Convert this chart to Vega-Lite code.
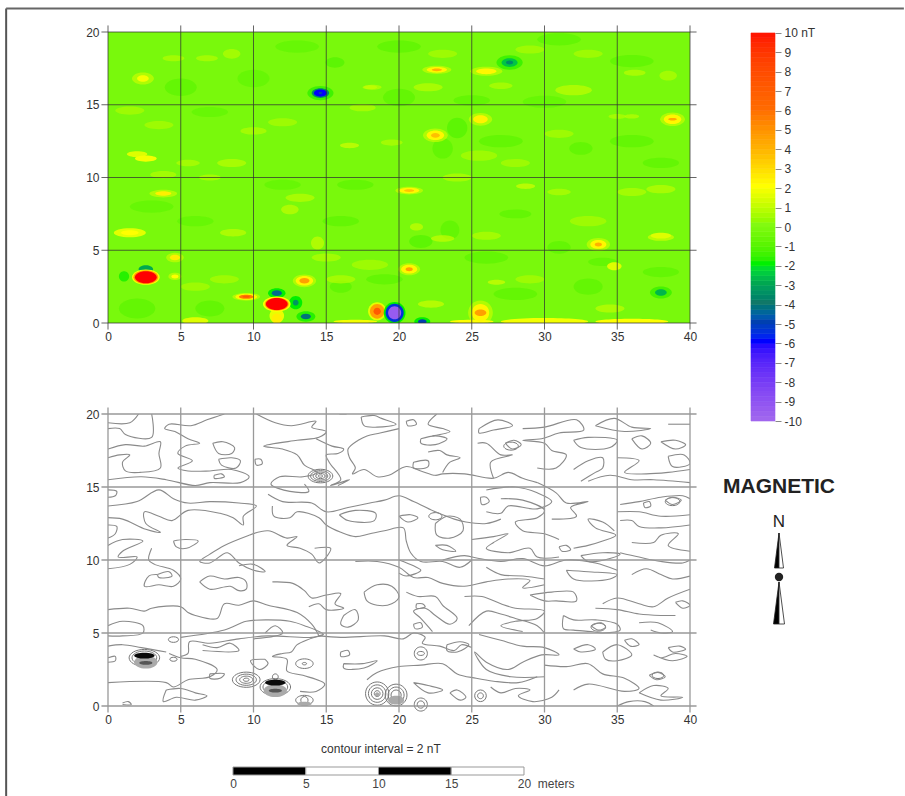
{"$schema":"https://vega.github.io/schema/vega-lite/v6.json","bounds":"flush","padding":{"left":5,"top":7,"right":0,"bottom":0},"background":"white","spacing":643,"config":{"view":{"stroke":null},"axis":{"labelFont":"Liberation Sans","labelFontSize":12,"labelColor":"#333","title":null,"grid":false,"domain":false,"ticks":false,"labelFlush":false}},
"datasets":{
"grid":[{"x":0},{"x":5},{"x":10},{"x":15},{"x":20},{"x":25},{"x":30},{"x":35},{"x":40}],
"gridy":[{"y":0},{"y":5},{"y":10},{"y":15},{"y":20}],
"base":[{"x":0,"x2":40,"y":0,"y2":20,"v":-0.25}],
"blobs":[
{"x":15.6,"y":17.9,"v":-1.2,"w":1.3,"s":"b"},{"x":24,"y":13.4,"v":-1.2,"w":1.4,"s":"a"},{"x":23,"y":12,"v":-1,"w":1.4,"s":"a"},{"x":21.5,"y":5.6,"v":-1.2,"w":1.6,"s":"b"},{"x":23.5,"y":6.4,"v":-1,"w":1.3,"s":"a"},{"x":32.5,"y":12,"v":-1,"w":1.6,"s":"b"},{"x":33,"y":2.5,"v":-1,"w":2,"s":"b"},{"x":34,"y":4.2,"v":-1,"w":2,"s":"c"},{"x":28,"y":7.5,"v":-1,"w":2.2,"s":"c"},{"x":31,"y":5.2,"v":-1,"w":1.6,"s":"b"},{"x":5,"y":16.2,"v":-1,"w":2.2,"s":"b"},{"x":10,"y":16.8,"v":-0.9,"w":2.2,"s":"b"},{"x":7,"y":14.5,"v":-0.9,"w":2.5,"s":"c"},{"x":12,"y":9.5,"v":-0.9,"w":2.5,"s":"c"},{"x":6,"y":7,"v":-0.9,"w":2.5,"s":"c"},{"x":16,"y":7,"v":-1,"w":2.5,"s":"c"},{"x":17,"y":9.5,"v":-1,"w":2.5,"s":"c"},{"x":20,"y":15.5,"v":-1,"w":2.2,"s":"b"},{"x":25,"y":15.3,"v":-1,"w":2.5,"s":"c"},{"x":30,"y":15.2,"v":-0.9,"w":3,"s":"c"},{"x":36,"y":12.5,"v":-1,"w":3,"s":"c"},{"x":28,"y":2,"v":-1,"w":3,"s":"c"},{"x":36,"y":18,"v":-1,"w":3,"s":"c"},{"x":13,"y":19,"v":-0.9,"w":3,"s":"c"},{"x":20,"y":19,"v":-1,"w":3,"s":"c"},{"x":31,"y":19.5,"v":-1,"w":3,"s":"c"},{"x":2,"y":1,"v":-1,"w":2.5,"s":"b"},{"x":7,"y":1,"v":-1,"w":2,"s":"b"},{"x":16,"y":2.5,"v":-1,"w":1.5,"s":"b"},{"x":3,"y":8,"v":-0.9,"w":3,"s":"c"},{"x":38,"y":11,"v":-1,"w":2.5,"s":"c"},{"x":27,"y":12.5,"v":-1,"w":3,"s":"c"},{"x":19,"y":3,"v":-1,"w":2.5,"s":"c"},{"x":26,"y":4.5,"v":-1,"w":3,"s":"c"},{"x":38,"y":3.5,"v":-1,"w":2.5,"s":"c"},
{"x":4.5,"y":18.2,"v":0.7,"w":1.5,"s":"c"},{"x":6.8,"y":18.2,"v":0.7,"w":1.5,"s":"c"},{"x":8.5,"y":18.5,"v":0.7,"w":1.2,"s":"b"},{"x":1.5,"y":14.6,"v":0.6,"w":2,"s":"c"},{"x":3.5,"y":13.6,"v":0.6,"w":2,"s":"c"},{"x":10,"y":13.2,"v":0.7,"w":1.8,"s":"c"},{"x":12,"y":13.8,"v":0.6,"w":2,"s":"c"},{"x":19.5,"y":12.4,"v":0.7,"w":1.5,"s":"c"},{"x":8.5,"y":11,"v":0.8,"w":2,"s":"c"},{"x":5.5,"y":11,"v":0.7,"w":1.6,"s":"c"},{"x":3.8,"y":10.2,"v":0.7,"w":1.8,"s":"c"},{"x":7,"y":10,"v":0.7,"w":1.5,"s":"c"},{"x":13.2,"y":8.6,"v":0.8,"w":2,"s":"c"},{"x":12.5,"y":7.8,"v":0.9,"w":1.2,"s":"b"},{"x":8.6,"y":6.2,"v":0.9,"w":1.8,"s":"c"},{"x":14.4,"y":5.5,"v":1,"w":0.9,"s":"a"},{"x":17.5,"y":14.8,"v":0.7,"w":1.8,"s":"c"},{"x":18.2,"y":16.2,"v":0.8,"w":1.2,"s":"c"},{"x":22,"y":16.2,"v":0.8,"w":2,"s":"c"},{"x":27,"y":16.3,"v":0.7,"w":1.6,"s":"c"},{"x":32,"y":16,"v":0.9,"w":2.5,"s":"c"},{"x":36.2,"y":17.2,"v":0.8,"w":1.5,"s":"c"},{"x":38.5,"y":17,"v":0.7,"w":1.2,"s":"b"},{"x":33,"y":18.5,"v":0.6,"w":2,"s":"c"},{"x":29,"y":18.8,"v":0.6,"w":2,"s":"c"},{"x":23,"y":18.5,"v":0.6,"w":2,"s":"c"},{"x":31,"y":13,"v":0.6,"w":2,"s":"c"},{"x":35,"y":14.2,"v":0.7,"w":1.2,"s":"c"},{"x":28,"y":11,"v":0.6,"w":2,"s":"c"},{"x":25.5,"y":11.5,"v":0.6,"w":2.5,"s":"c"},{"x":24,"y":10,"v":0.7,"w":2,"s":"c"},{"x":28.7,"y":9.4,"v":1.2,"w":1.3,"s":"c"},{"x":31,"y":9,"v":0.7,"w":1.6,"s":"c"},{"x":36,"y":9,"v":0.7,"w":2,"s":"c"},{"x":38,"y":9.2,"v":0.8,"w":2,"s":"c"},{"x":33,"y":7,"v":0.6,"w":2.5,"s":"c"},{"x":38,"y":5.9,"v":1.2,"w":1.8,"s":"c"},{"x":23,"y":5.8,"v":1,"w":1.6,"s":"c"},{"x":26,"y":6,"v":0.7,"w":2,"s":"c"},{"x":21.2,"y":6.6,"v":1,"w":0.9,"s":"b"},{"x":26.7,"y":2.8,"v":1.2,"w":1.2,"s":"c"},{"x":22.2,"y":1.3,"v":1.1,"w":1.8,"s":"c"},{"x":29,"y":3,"v":0.6,"w":2,"s":"c"},{"x":34.5,"y":1,"v":0.9,"w":2,"s":"c"},{"x":36,"y":0.1,"v":2,"w":5,"s":"d"},{"x":30,"y":0.1,"v":1.8,"w":6,"s":"d"},{"x":25,"y":0.1,"v":2,"w":3,"s":"d"},{"x":17,"y":0.1,"v":1.8,"w":3,"s":"d"},{"x":6,"y":0.15,"v":1.4,"w":1.8,"s":"c"},{"x":8,"y":3,"v":0.6,"w":2,"s":"c"},{"x":6,"y":2.5,"v":0.6,"w":2,"s":"c"},{"x":16,"y":3,"v":0.7,"w":2,"s":"c"},{"x":18,"y":4,"v":0.6,"w":2.5,"s":"c"},{"x":15,"y":4.5,"v":0.7,"w":2,"s":"c"},{"x":16.6,"y":12.2,"v":1.2,"w":1.3,"s":"c"},{"x":18,"y":16.2,"v":1,"w":1,"s":"c"},{"x":34.8,"y":3.9,"v":1.4,"w":1,"s":"b"},{"x":38,"y":6,"v":1.4,"w":1.4,"s":"c"},{"x":36,"y":14.2,"v":0.8,"w":1,"s":"c"},
{"x":2.4,"y":16.8,"v":1,"w":1.5,"s":"b"},{"x":2.4,"y":16.8,"v":1.8,"w":0.8,"s":"b"},{"x":3.8,"y":8.9,"v":1,"w":1.9,"s":"c"},{"x":3.8,"y":8.9,"v":2.4,"w":1.1,"s":"c"},{"x":4.6,"y":4.5,"v":1,"w":1.2,"s":"b"},{"x":4.6,"y":4.5,"v":2.4,"w":0.7,"s":"b"},{"x":4.6,"y":3.2,"v":1,"w":0.9,"s":"b"},{"x":4.6,"y":3.2,"v":2,"w":0.5,"s":"b"},{"x":1.5,"y":6.2,"v":1.5,"w":2.2,"s":"c"},{"x":1.5,"y":6.2,"v":2,"w":1.2,"s":"c"},{"x":2,"y":11.6,"v":1.4,"w":1.4,"s":"c"},{"x":2.6,"y":11.3,"v":1.8,"w":1.5,"s":"c"},
{"x":20.7,"y":9.1,"v":1,"w":1.9,"s":"c"},{"x":20.7,"y":9.1,"v":2.2,"w":1.4,"s":"c"},{"x":20.7,"y":9.1,"v":3.5,"w":0.7,"s":"c"},{"x":22.6,"y":17.4,"v":1,"w":2,"s":"c"},{"x":22.6,"y":17.4,"v":2.2,"w":1.4,"s":"c"},{"x":22.6,"y":17.4,"v":4,"w":0.7,"s":"c"},{"x":26,"y":17.3,"v":1,"w":2.2,"s":"c"},{"x":26,"y":17.3,"v":2.2,"w":1.4,"s":"c"},{"x":27.6,"y":17.9,"v":-1.5,"w":1.8,"s":"b"},{"x":27.6,"y":17.9,"v":-2.6,"w":1.1,"s":"b"},{"x":27.6,"y":17.9,"v":-3.6,"w":0.5,"s":"b"},{"x":25.6,"y":14,"v":1,"w":1.6,"s":"b"},{"x":25.6,"y":14,"v":2.3,"w":1,"s":"b"},{"x":22.5,"y":12.9,"v":1,"w":1.7,"s":"b"},{"x":22.5,"y":12.9,"v":2.2,"w":1.2,"s":"b"},{"x":22.5,"y":12.9,"v":3.6,"w":0.6,"s":"b"},{"x":38.8,"y":14,"v":1,"w":1.7,"s":"b"},{"x":38.8,"y":14,"v":2.2,"w":1.2,"s":"b"},{"x":38.8,"y":14,"v":4.2,"w":0.6,"s":"c"},{"x":33.7,"y":5.4,"v":1,"w":1.6,"s":"b"},{"x":33.7,"y":5.4,"v":2.2,"w":1.1,"s":"b"},{"x":33.7,"y":5.4,"v":4,"w":0.5,"s":"b"},{"x":20.7,"y":3.7,"v":1,"w":1.5,"s":"b"},{"x":20.7,"y":3.7,"v":2.2,"w":1.1,"s":"b"},{"x":20.7,"y":3.7,"v":4.5,"w":0.5,"s":"b"},{"x":25.6,"y":0.7,"v":1,"w":1.7,"s":"a"},{"x":25.6,"y":0.7,"v":2.2,"w":1.2,"s":"a"},{"x":25.6,"y":0.7,"v":4.5,"w":0.8,"s":"b"},{"x":38,"y":2.1,"v":-1.4,"w":1.5,"s":"b"},{"x":38,"y":2.1,"v":-2.8,"w":0.8,"s":"b"},
{"x":13.5,"y":2.9,"v":1,"w":1.6,"s":"b"},{"x":13.5,"y":2.9,"v":2.2,"w":1.2,"s":"b"},{"x":13.5,"y":2.9,"v":4.5,"w":0.7,"s":"b"},{"x":9.5,"y":1.8,"v":1,"w":1.9,"s":"c"},{"x":9.5,"y":1.8,"v":2.2,"w":1.5,"s":"c"},{"x":9.5,"y":1.8,"v":5.5,"w":1,"s":"c"},{"x":9.5,"y":1.8,"v":7,"w":0.5,"s":"c"},{"x":11.6,"y":0.5,"v":1.6,"w":1,"s":"a"},{"x":11.6,"y":0.3,"v":2.4,"w":0.7,"s":"a"},{"x":11.6,"y":2.05,"v":-2,"w":1.2,"s":"b"},{"x":11.6,"y":2.05,"v":-4.4,"w":0.7,"s":"b"},{"x":12.9,"y":1.4,"v":-2,"w":0.9,"s":"a"},{"x":12.9,"y":1.4,"v":-3.4,"w":0.4,"s":"a"},{"x":13.6,"y":0.45,"v":-1.8,"w":1.3,"s":"b"},{"x":13.6,"y":0.45,"v":-4.2,"w":0.7,"s":"b"},{"x":11.6,"y":1.3,"v":2,"w":1.9,"s":"b"},{"x":11.6,"y":1.3,"v":4.5,"w":1.65,"s":"b"},{"x":11.6,"y":1.3,"v":10,"w":1.5,"s":"b"},{"x":2.6,"y":3.7,"v":-3,"w":1,"s":"b"},{"x":1.1,"y":3.2,"v":-1.8,"w":0.7,"s":"a"},{"x":2.6,"y":3.15,"v":2,"w":1.9,"s":"b"},{"x":2.6,"y":3.15,"v":4.5,"w":1.7,"s":"b"},{"x":2.6,"y":3.15,"v":10,"w":1.5,"s":"b"},{"x":18.5,"y":0.8,"v":1.5,"w":1.25,"s":"a"},{"x":18.5,"y":0.8,"v":4.5,"w":1,"s":"a"},{"x":18.5,"y":0.8,"v":7,"w":0.5,"s":"a"},{"x":14.6,"y":15.8,"v":-1.5,"w":1.8,"s":"b"},{"x":14.6,"y":15.8,"v":-3.5,"w":1.2,"s":"b"},{"x":14.6,"y":15.8,"v":-6,"w":0.9,"s":"b"},{"x":14.6,"y":15.8,"v":-5,"w":0.25,"s":"b"},{"x":19.7,"y":0.7,"v":-2,"w":1.5,"s":"a"},{"x":19.7,"y":0.7,"v":-5.5,"w":1.25,"s":"a"},{"x":19.7,"y":0.7,"v":-9.5,"w":0.9,"s":"a"},{"x":21.6,"y":0.1,"v":-2,"w":1.1,"s":"b"},{"x":21.6,"y":0.1,"v":-5,"w":0.6,"s":"b"}
],
"rings":[{"x":14.6,"y":15.75,"w":1.7,"s":"b"},{"x":14.6,"y":15.75,"w":1.35,"s":"b"},{"x":14.6,"y":15.75,"w":1,"s":"b"},{"x":14.6,"y":15.75,"w":0.65,"s":"b"},{"x":14.6,"y":15.75,"w":0.3,"s":"b"},{"x":2.5,"y":3.3,"w":2.1,"s":"b"},{"x":2.5,"y":3.3,"w":1.7,"s":"b"},{"x":9.5,"y":1.8,"w":1.9,"s":"b"},{"x":9.5,"y":1.8,"w":1.4,"s":"b"},{"x":9.5,"y":1.8,"w":0.9,"s":"b"},{"x":9.5,"y":1.8,"w":0.4,"s":"b"},{"x":11.5,"y":1.3,"w":2.1,"s":"b"},{"x":11.5,"y":1.3,"w":1.7,"s":"b"},{"x":18.5,"y":0.85,"w":1.6,"s":"a"},{"x":18.5,"y":0.85,"w":1.2,"s":"a"},{"x":18.5,"y":0.85,"w":0.8,"s":"a"},{"x":18.5,"y":0.85,"w":0.4,"s":"a"},{"x":19.8,"y":0.75,"w":1.5,"s":"a"},{"x":19.8,"y":0.75,"w":1.1,"s":"a"},{"x":19.8,"y":0.75,"w":0.7,"s":"a"},{"x":4.5,"y":4.55,"w":0.7,"s":"b"},{"x":4.5,"y":3.2,"w":0.5,"s":"b"},{"x":13.5,"y":2.9,"w":1.2,"s":"b"},{"x":13.5,"y":2.9,"w":0.3,"s":"b"},{"x":21.5,"y":3.6,"w":0.9,"s":"a"},{"x":21.5,"y":3.6,"w":0.5,"s":"b"},{"x":11.5,"y":2,"w":0.4,"s":"a"},{"x":25.6,"y":0.7,"w":0.8,"s":"a"},{"x":25.6,"y":0.7,"w":0.4,"s":"a"},{"x":21.5,"y":0.1,"w":0.9,"s":"a"},{"x":21.5,"y":0.1,"w":0.5,"s":"a"},{"x":33.7,"y":5.4,"w":1,"s":"b"},{"x":38.8,"y":14,"w":1,"s":"b"},{"x":22.5,"y":13,"w":0.9,"s":"b"},{"x":27.7,"y":17.8,"w":1,"s":"b"},{"x":37.8,"y":2.1,"w":0.8,"s":"b"},{"x":13.5,"y":0.4,"w":1.2,"s":"b"},{"x":13.5,"y":0.4,"w":0.5,"s":"a"}],
"dark":[{"x":2.6,"y":3.0,"w":1.6,"s":"b","g":"m"},{"x":2.5,"y":3.45,"w":1.4,"s":"c","g":"k"},{"x":2.6,"y":2.95,"w":0.9,"s":"c","g":"d"},{"x":11.5,"y":1.05,"w":1.6,"s":"b","g":"m"},{"x":11.5,"y":1.6,"w":1.4,"s":"c","g":"k"},{"x":11.5,"y":1.05,"w":0.9,"s":"c","g":"d"},{"x":19.8,"y":0.4,"w":1.1,"s":"b","g":"m"},{"x":18.5,"y":0.8,"w":0.3,"s":"a","g":"m"},{"x":13.5,"y":0.15,"w":1,"s":"c","g":"m"}],
"contours":[
{"c":1,"x":0,"y":19.4},{"c":1,"x":1.5,"y":19.4},{"c":1,"x":2.1,"y":20},
{"c":2,"x":0,"y":19},{"c":2,"x":0.8,"y":19},{"c":2,"x":1.2,"y":18.6},{"c":2,"x":3,"y":18.4},{"c":2,"x":3,"y":20},
{"c":3,"x":0,"y":17.6},{"c":3,"x":1.2,"y":17.9},{"c":3,"x":2.5,"y":17.8},{"c":3,"x":3.6,"y":18.1},{"c":3,"x":3.5,"y":17.3},{"c":3,"x":3.6,"y":16.3},{"c":3,"x":2.2,"y":16},{"c":3,"x":1.2,"y":16.1},{"c":3,"x":1,"y":16.7},{"c":3,"x":1.5,"y":17.2},{"c":3,"x":0.8,"y":17.2},{"c":3,"x":0,"y":17},
{"c":4,"x":8,"y":20},{"c":4,"x":6.8,"y":19.6},{"c":4,"x":5.7,"y":19.2},{"c":4,"x":4.2,"y":19.3},{"c":4,"x":3.9,"y":19},{"c":4,"x":4.6,"y":18.8},{"c":4,"x":5.5,"y":18.3},{"c":4,"x":6.3,"y":18},{"c":4,"x":5.3,"y":17.8},{"c":4,"x":4.8,"y":17.3},{"c":4,"x":5.8,"y":16.8},{"c":4,"x":4.8,"y":16.3},{"c":4,"x":5.5,"y":16.1},{"c":4,"x":7,"y":16.1},{"c":4,"x":8.5,"y":16.2},{"c":4,"x":9.7,"y":15.7},{"c":4,"x":9.1,"y":15.3},{"c":4,"x":7,"y":15.3},{"c":4,"x":6,"y":15.1},{"c":4,"x":4,"y":15.5},{"c":4,"x":2.3,"y":15.7},{"c":4,"x":0,"y":15.5},
{"c":5,"x":0,"y":14.8},{"c":5,"x":0.6,"y":14.7},{"c":5,"x":0.5,"y":14.4},{"c":5,"x":0,"y":14.3},
{"c":6,"x":0,"y":13.7},{"c":6,"x":2,"y":14},{"c":6,"x":3.5,"y":14.8},{"c":6,"x":4.5,"y":14.2},{"c":6,"x":5.5,"y":13.9},{"c":6,"x":7,"y":14},{"c":6,"x":9,"y":13.9},{"c":6,"x":10.2,"y":13.7},{"c":6,"x":9.3,"y":13},{"c":6,"x":9.3,"y":12.4},{"c":6,"x":8.6,"y":12.9},{"c":6,"x":7.7,"y":13.2},{"c":6,"x":5.5,"y":13.4},{"c":6,"x":4.4,"y":12.7},{"c":6,"x":3.5,"y":13},{"c":6,"x":2.5,"y":13.3},{"c":6,"x":2.6,"y":12.5},{"c":6,"x":3.6,"y":11.9},{"c":6,"x":2.6,"y":12.1},{"c":6,"x":1,"y":12.8},{"c":6,"x":0,"y":12.9},
{"c":7,"x":0,"y":12.4},{"c":7,"x":0.6,"y":12.3},{"c":7,"x":0.5,"y":11.8},{"c":7,"x":0,"y":11.5},
{"c":8,"x":7.2,"y":18},{"c":8,"x":7.9,"y":18.1},{"c":8,"x":8.7,"y":17.7},{"c":8,"x":8.5,"y":17.3},{"c":8,"x":7.6,"y":17.3},{"c":8,"x":7.2,"y":18},
{"c":9,"x":7.6,"y":16.9},{"c":9,"x":8.5,"y":17},{"c":9,"x":9.1,"y":16.8},{"c":9,"x":8.8,"y":16.3},{"c":9,"x":7.8,"y":16.5},{"c":9,"x":7.6,"y":16.9},
{"c":10,"x":10.1,"y":16.9},{"c":10,"x":10.5,"y":16.9},{"c":10,"x":10.6,"y":16.6},{"c":10,"x":10.2,"y":16.5},{"c":10,"x":10.1,"y":16.9},
{"c":11,"x":7.3,"y":15.8},{"c":11,"x":7.8,"y":15.9},{"c":11,"x":8,"y":15.7},{"c":11,"x":7.3,"y":15.6},{"c":11,"x":7.3,"y":15.8},
{"c":12,"x":10.2,"y":20},{"c":12,"x":11.5,"y":19.4},{"c":12,"x":12.6,"y":19.2},{"c":12,"x":14.3,"y":19.5},{"c":12,"x":14,"y":19.1},{"c":12,"x":15,"y":18.8},{"c":12,"x":14.5,"y":18.4},{"c":12,"x":13,"y":18.2},{"c":12,"x":10.7,"y":17.8},{"c":12,"x":12,"y":17.6},{"c":12,"x":13,"y":17.2},{"c":12,"x":13.5,"y":16.5},{"c":12,"x":14.4,"y":16},{"c":12,"x":13.4,"y":15.7},{"c":12,"x":11.8,"y":15.7},{"c":12,"x":11.2,"y":15.2},{"c":12,"x":12.5,"y":14.7},{"c":12,"x":13.8,"y":14.7},{"c":12,"x":13.5,"y":15.2},
{"c":13,"x":15.9,"y":20},{"c":13,"x":16.4,"y":20},
{"c":14,"x":14.3,"y":18.3},{"c":14,"x":15.4,"y":17.8},{"c":14,"x":16.2,"y":17.6},{"c":14,"x":15.8,"y":17.3},{"c":14,"x":15,"y":17.2},{"c":14,"x":15.2,"y":16.7},{"c":14,"x":16,"y":15.5},{"c":14,"x":15.3,"y":15.1},{"c":14,"x":16.6,"y":15.5},{"c":14,"x":15.8,"y":15.1},
{"c":15,"x":17.4,"y":19.8},{"c":15,"x":18.3,"y":19.9},{"c":15,"x":18.8,"y":19.7},{"c":15,"x":19.8,"y":19.3},{"c":15,"x":18.5,"y":19.1},{"c":15,"x":17.6,"y":19.2},{"c":15,"x":17.4,"y":19.8},
{"c":16,"x":20,"y":19},{"c":16,"x":18.7,"y":18.7},{"c":16,"x":17.8,"y":18.5},{"c":16,"x":17.2,"y":18.2},{"c":16,"x":16.5,"y":17.6},{"c":16,"x":16.6,"y":17},{"c":16,"x":17,"y":16.3},{"c":16,"x":16.8,"y":15.9},{"c":16,"x":17.6,"y":16.2},{"c":16,"x":18.5,"y":15.7},{"c":16,"x":19.3,"y":15.8},{"c":16,"x":20.5,"y":16.4},{"c":16,"x":21.5,"y":16.1},{"c":16,"x":22.5,"y":15.8},{"c":16,"x":23,"y":15.9},{"c":16,"x":24.5,"y":15.9},{"c":16,"x":26.5,"y":15.6},{"c":16,"x":27.5,"y":16},{"c":16,"x":28.5,"y":15.6},{"c":16,"x":29.5,"y":15.3},
{"c":18,"x":11,"y":14.5},{"c":18,"x":12,"y":14},{"c":18,"x":14,"y":13.9},{"c":18,"x":15,"y":13.3},{"c":18,"x":16.5,"y":13.6},{"c":18,"x":18,"y":13.9},{"c":18,"x":19,"y":14.1},{"c":18,"x":20,"y":14.4},{"c":18,"x":21,"y":14},{"c":18,"x":22.5,"y":13.3},{"c":18,"x":23.8,"y":12.8},{"c":18,"x":24.6,"y":12.6},{"c":18,"x":26,"y":12.5},{"c":18,"x":27,"y":12.8},
{"c":19,"x":11.3,"y":13.7},{"c":19,"x":11.4,"y":13},{"c":19,"x":12.5,"y":12.9},{"c":19,"x":13,"y":13.3},{"c":19,"x":14.5,"y":12.9},{"c":19,"x":15,"y":12.4},{"c":19,"x":16,"y":11.9},{"c":19,"x":17,"y":11.6},{"c":19,"x":18,"y":11.8},{"c":19,"x":19,"y":12},{"c":19,"x":20.3,"y":12.2},{"c":19,"x":20.5,"y":11.3},{"c":19,"x":20.8,"y":10.5},{"c":19,"x":21.5,"y":9.9},{"c":19,"x":23,"y":9.9},{"c":19,"x":24.2,"y":9.5},{"c":19,"x":25,"y":10},
{"c":20,"x":15.9,"y":13.1},{"c":20,"x":17,"y":13.4},{"c":20,"x":18.4,"y":13.2},{"c":20,"x":18.3,"y":12.7},{"c":20,"x":16.5,"y":12.7},{"c":20,"x":15.9,"y":13.1},
{"c":21,"x":9.7,"y":11.7},{"c":21,"x":11,"y":12},{"c":21,"x":12.3,"y":11.5},{"c":21,"x":13,"y":11.6},{"c":21,"x":12.3,"y":11},{"c":21,"x":13.2,"y":10.8},{"c":21,"x":14,"y":10.4},{"c":21,"x":14.5,"y":9.8},{"c":21,"x":15,"y":10.2},{"c":21,"x":15.3,"y":10.8},{"c":21,"x":14.2,"y":10.8},
{"c":22,"x":0,"y":11},{"c":22,"x":1,"y":11.4},{"c":22,"x":2.4,"y":11.3},{"c":22,"x":1,"y":10.6},{"c":22,"x":0.7,"y":10.2},{"c":22,"x":2,"y":10.2},{"c":22,"x":1.5,"y":9.7},{"c":22,"x":0,"y":9.4},
{"c":23,"x":4.5,"y":11.3},{"c":23,"x":5.3,"y":11.4},{"c":23,"x":6.2,"y":11.3},{"c":23,"x":5.4,"y":10.8},{"c":23,"x":4.7,"y":10.9},{"c":23,"x":4.5,"y":11.3},
{"c":24,"x":9.7,"y":11.7},{"c":24,"x":8,"y":11},{"c":24,"x":7,"y":10.4},{"c":24,"x":6.3,"y":9.9},{"c":24,"x":7,"y":9.8},{"c":24,"x":8.2,"y":10.5},{"c":24,"x":9,"y":9.8},{"c":24,"x":10,"y":9.3},{"c":24,"x":10.8,"y":9.2},{"c":24,"x":10,"y":9.7},{"c":24,"x":9,"y":9.6},
{"c":25,"x":3,"y":10.8},{"c":25,"x":2.8,"y":10},{"c":25,"x":3.2,"y":9.7},{"c":25,"x":4.5,"y":9.3},{"c":25,"x":5,"y":8.7},{"c":25,"x":4.5,"y":8.2},{"c":25,"x":3.5,"y":8.3},{"c":25,"x":2.5,"y":8.2},{"c":25,"x":2.8,"y":8.9},{"c":25,"x":3.4,"y":9},
{"c":26,"x":3.4,"y":9},{"c":26,"x":4.2,"y":9.2},{"c":26,"x":4.4,"y":8.9},{"c":26,"x":3.5,"y":8.8},{"c":26,"x":3.4,"y":9},
{"c":27,"x":6.3,"y":8.5},{"c":27,"x":7,"y":8.9},{"c":27,"x":8,"y":8.7},{"c":27,"x":9,"y":8.8},{"c":27,"x":9.5,"y":8.5},{"c":27,"x":9.5,"y":8},{"c":27,"x":9,"y":7.9},{"c":27,"x":8.4,"y":8.2},{"c":27,"x":7,"y":8},{"c":27,"x":6.3,"y":8.5},
{"c":28,"x":0,"y":6.6},{"c":28,"x":1.5,"y":6.7},{"c":28,"x":2.5,"y":6.5},{"c":28,"x":3,"y":6.7},{"c":28,"x":5,"y":6.8},{"c":28,"x":5.5,"y":6.4},{"c":28,"x":6,"y":6.2},{"c":28,"x":7.5,"y":6},{"c":28,"x":8,"y":7},{"c":28,"x":9,"y":6.9},{"c":28,"x":10,"y":7.2},{"c":28,"x":11,"y":6.9},{"c":28,"x":13,"y":6.4},{"c":28,"x":14,"y":5.6},{"c":28,"x":14.5,"y":4.8},
{"c":29,"x":11.3,"y":8.5},{"c":29,"x":12.7,"y":8.4},{"c":29,"x":13.5,"y":7.9},{"c":29,"x":14,"y":7.4},{"c":29,"x":15,"y":7.6},{"c":29,"x":16,"y":7.7},{"c":29,"x":15.6,"y":7},{"c":29,"x":16.2,"y":6.7},{"c":29,"x":15,"y":6.6},{"c":29,"x":14.5,"y":7},{"c":29,"x":13.8,"y":6.8},
{"c":30,"x":17,"y":9.9},{"c":30,"x":18.5,"y":9.9},{"c":30,"x":20,"y":9.5},{"c":30,"x":21,"y":8.8},{"c":30,"x":22,"y":8.8},{"c":30,"x":23,"y":8.4},{"c":30,"x":24.5,"y":8.2},{"c":30,"x":26,"y":8.5},{"c":30,"x":27.5,"y":8.7},{"c":30,"x":29,"y":8.6},{"c":30,"x":28.5,"y":8.1},{"c":30,"x":30,"y":8.3},
{"c":31,"x":17.6,"y":7.8},{"c":31,"x":18.5,"y":8.3},{"c":31,"x":19.5,"y":8.2},{"c":31,"x":20,"y":7.5},{"c":31,"x":19.5,"y":7},{"c":31,"x":18.5,"y":6.9},{"c":31,"x":17.8,"y":7.2},{"c":31,"x":17.6,"y":7.8},
{"c":32,"x":16.2,"y":6.2},{"c":32,"x":17,"y":6.6},{"c":32,"x":17.2,"y":5.9},{"c":32,"x":16.5,"y":5.4},{"c":32,"x":16,"y":5.6},{"c":32,"x":16.2,"y":6.2},
{"c":33,"x":0,"y":5.5},{"c":33,"x":1,"y":5.8},{"c":33,"x":2.4,"y":5.5},{"c":33,"x":2.4,"y":5},{"c":33,"x":1,"y":4.8},{"c":33,"x":0,"y":4.8},
{"c":34,"x":0,"y":4.1},{"c":34,"x":1,"y":4.2},{"c":34,"x":2.3,"y":4},{"c":34,"x":4,"y":3.7},
{"c":35,"x":5,"y":4.7},{"c":35,"x":8,"y":5.2},{"c":35,"x":9.5,"y":5.8},{"c":35,"x":11,"y":5.9},{"c":35,"x":12.5,"y":5.8},{"c":35,"x":13.5,"y":5.5},{"c":35,"x":14.8,"y":4.9},{"c":35,"x":14,"y":4.7},{"c":35,"x":11,"y":4.8},{"c":35,"x":9,"y":4.6},{"c":35,"x":7,"y":4.3},{"c":35,"x":5.6,"y":4.4},{"c":35,"x":5.5,"y":3.6},{"c":35,"x":5,"y":3.4},
{"c":36,"x":10.8,"y":5},{"c":36,"x":11.5,"y":5.5},{"c":36,"x":12,"y":5},{"c":36,"x":10,"y":4.6},
{"c":37,"x":6.5,"y":4.2},{"c":37,"x":7.5,"y":4},{"c":37,"x":8.4,"y":4.3},{"c":37,"x":9,"y":3.8},{"c":37,"x":6.5,"y":3.8},
{"c":38,"x":0,"y":3.3},{"c":38,"x":0.5,"y":3.4},{"c":38,"x":0.5,"y":3.1},{"c":38,"x":0,"y":3},
{"c":39,"x":0,"y":1.6},{"c":39,"x":4,"y":1.6},{"c":39,"x":4.5,"y":1.3},{"c":39,"x":5.5,"y":1.8},{"c":39,"x":7,"y":2},{"c":39,"x":7.5,"y":2.5},{"c":39,"x":6,"y":3.2},{"c":39,"x":5,"y":3.3},{"c":39,"x":4.2,"y":3.6},
{"c":40,"x":7,"y":2.2},{"c":40,"x":8,"y":2.2},{"c":40,"x":7.7,"y":1.9},{"c":40,"x":7,"y":1.9},{"c":40,"x":7,"y":2.2},
{"c":41,"x":4,"y":1.1},{"c":41,"x":5,"y":1.2},{"c":41,"x":6,"y":0.9},{"c":41,"x":6.8,"y":0.7},{"c":41,"x":6,"y":0.4},{"c":41,"x":4.7,"y":0.6},{"c":41,"x":3.8,"y":0.3},{"c":41,"x":4,"y":1.1},
{"c":42,"x":1,"y":0.2},{"c":42,"x":1.4,"y":0.3},{"c":42,"x":1.6,"y":0.1},{"c":42,"x":1,"y":0.1},
{"c":43,"x":10.8,"y":3.2},{"c":43,"x":9.8,"y":3.1},{"c":43,"x":10.4,"y":2.5},{"c":43,"x":11,"y":2.9},{"c":43,"x":10.8,"y":3.2},
{"c":44,"x":14.8,"y":4.9},{"c":44,"x":13,"y":4.2},{"c":44,"x":12.6,"y":3.7},{"c":44,"x":12,"y":3.6},{"c":44,"x":11.3,"y":3.4},{"c":44,"x":12.3,"y":3.2},{"c":44,"x":12.3,"y":2.4},{"c":44,"x":13.4,"y":2.1},{"c":44,"x":14.9,"y":1.5},{"c":44,"x":14.3,"y":1},{"c":44,"x":13.2,"y":1},
{"c":45,"x":16,"y":3.7},{"c":45,"x":16.5,"y":3.8},{"c":45,"x":16.6,"y":3.5},{"c":45,"x":16,"y":3.4},{"c":45,"x":16,"y":3.7},
{"c":46,"x":16.2,"y":2.9},{"c":46,"x":17.5,"y":2.9},{"c":46,"x":18.5,"y":3.1},{"c":46,"x":17.6,"y":2.6},{"c":46,"x":16.2,"y":2.6},{"c":46,"x":16.2,"y":2.9},
{"c":47,"x":17.8,"y":1.8},{"c":47,"x":18.5,"y":2.3},{"c":47,"x":20,"y":2.7},{"c":47,"x":21.5,"y":2.8},{"c":47,"x":23,"y":2.9},{"c":47,"x":24,"y":2.2},{"c":47,"x":25.3,"y":1.9},{"c":47,"x":26.5,"y":1.7},{"c":47,"x":28.2,"y":1.6},{"c":47,"x":29.5,"y":2},
{"c":48,"x":14.5,"y":4.8},{"c":48,"x":16,"y":4.7},{"c":48,"x":19,"y":4.8},{"c":48,"x":20.3,"y":4.6},{"c":48,"x":21,"y":5},{"c":48,"x":21.8,"y":4.7},{"c":48,"x":21.6,"y":4.3},{"c":48,"x":22.8,"y":4.1},{"c":48,"x":23.8,"y":3.8},{"c":48,"x":24.3,"y":4.2},{"c":48,"x":25,"y":4},
{"c":49,"x":23.3,"y":4.2},{"c":49,"x":24.2,"y":4.4},{"c":49,"x":24.8,"y":4.2},{"c":49,"x":24,"y":3.7},{"c":49,"x":23.3,"y":3.8},{"c":49,"x":23.3,"y":4.2},
{"c":50,"x":20.5,"y":7.8},{"c":50,"x":21.3,"y":7.5},{"c":50,"x":22.5,"y":7.5},{"c":50,"x":23,"y":6.9},{"c":50,"x":24,"y":6},{"c":50,"x":23.5,"y":5.6},{"c":50,"x":22.5,"y":6.2},{"c":50,"x":21.8,"y":6.7},{"c":50,"x":21,"y":6.5},{"c":50,"x":21.5,"y":6},{"c":50,"x":22.3,"y":5.1},
{"c":51,"x":21.2,"y":7},{"c":51,"x":21.6,"y":7},{"c":51,"x":21.8,"y":6.8},{"c":51,"x":21.2,"y":6.7},{"c":51,"x":21.2,"y":7},
{"c":52,"x":21,"y":5.6},{"c":52,"x":21.5,"y":5.7},{"c":52,"x":21.6,"y":5.4},{"c":52,"x":21.1,"y":5.3},{"c":52,"x":21,"y":5.6},
{"c":53,"x":20,"y":10},{"c":53,"x":21,"y":9.6},{"c":53,"x":21.5,"y":9.3},{"c":53,"x":20.5,"y":8.9},{"c":53,"x":20,"y":9.1},
{"c":54,"x":20.5,"y":19.5},{"c":54,"x":21,"y":19.6},{"c":54,"x":21.2,"y":19.3},{"c":54,"x":20.6,"y":19.2},{"c":54,"x":20.5,"y":19.5},
{"c":55,"x":21.5,"y":18.3},{"c":55,"x":22.5,"y":18.5},{"c":55,"x":23.3,"y":18.3},{"c":55,"x":22.5,"y":17.9},{"c":55,"x":21.5,"y":18},{"c":55,"x":21.5,"y":18.3},
{"c":56,"x":22,"y":17.4},{"c":56,"x":22.8,"y":17.5},{"c":56,"x":23.3,"y":17.2},{"c":56,"x":24.2,"y":17},{"c":56,"x":23.5,"y":16.7},{"c":56,"x":23,"y":16},
{"c":57,"x":21,"y":16.7},{"c":57,"x":22,"y":16.8},{"c":57,"x":22,"y":16.4},{"c":57,"x":21,"y":16.3},{"c":57,"x":21,"y":16.7},
{"c":58,"x":22.6,"y":20},{"c":58,"x":22,"y":19.3},{"c":58,"x":23,"y":19},{"c":58,"x":23.5,"y":18.8},{"c":58,"x":22.3,"y":18.5},
{"c":59,"x":25.5,"y":19},{"c":59,"x":26.8,"y":19.6},{"c":59,"x":27.8,"y":19.2},{"c":59,"x":26.5,"y":18.9},{"c":59,"x":25.5,"y":18.7},{"c":59,"x":25.5,"y":19},
{"c":60,"x":25.4,"y":18},{"c":60,"x":26,"y":18},{"c":60,"x":27,"y":17.2},{"c":60,"x":27.8,"y":17.2},{"c":60,"x":26.3,"y":16.7},{"c":60,"x":26.5,"y":15.6},
{"c":61,"x":27.3,"y":18},{"c":61,"x":27.9,"y":18.2},{"c":61,"x":28.4,"y":17.9},{"c":61,"x":27.8,"y":17.6},{"c":61,"x":27.3,"y":18},
{"c":62,"x":28.5,"y":19},{"c":62,"x":30,"y":19.1},{"c":62,"x":32.2,"y":19.6},{"c":62,"x":32.7,"y":18.9},{"c":62,"x":31,"y":18.7},{"c":62,"x":29.8,"y":18.3},{"c":62,"x":28.5,"y":18.2},{"c":62,"x":30,"y":18},{"c":62,"x":30.5,"y":17.5},{"c":62,"x":31.5,"y":17.2},{"c":62,"x":30.8,"y":16.3},{"c":62,"x":29.5,"y":16.3},
{"c":63,"x":32,"y":18.2},{"c":63,"x":33,"y":18.4},{"c":63,"x":35,"y":18.2},{"c":63,"x":34.5,"y":17.7},{"c":63,"x":32.5,"y":17.7},{"c":63,"x":32,"y":18.2},
{"c":64,"x":33.5,"y":19.2},{"c":64,"x":34.8,"y":19.7},{"c":64,"x":36,"y":19.1},{"c":64,"x":37.3,"y":19},{"c":64,"x":35.5,"y":18.8},{"c":64,"x":33.5,"y":19.2},
{"c":65,"x":36,"y":18.3},{"c":65,"x":36.7,"y":18.5},{"c":65,"x":37.3,"y":18},{"c":65,"x":36.7,"y":17.6},{"c":65,"x":36,"y":18.3},
{"c":66,"x":38,"y":18.1},{"c":66,"x":39,"y":18.2},{"c":66,"x":39.7,"y":17.9},{"c":66,"x":39,"y":17.6},{"c":66,"x":38,"y":18.1},
{"c":67,"x":38.5,"y":19.3},{"c":67,"x":40,"y":19.3},
{"c":68,"x":38.5,"y":17.1},{"c":68,"x":39.6,"y":17.2},{"c":68,"x":40,"y":16.6},{"c":68,"x":38.8,"y":16.4},{"c":68,"x":38.5,"y":17.1},
{"c":69,"x":32,"y":16.2},{"c":69,"x":33,"y":16.8},{"c":69,"x":34,"y":17},{"c":69,"x":34,"y":16.3},{"c":69,"x":33.5,"y":16},{"c":69,"x":32.5,"y":15.4},
{"c":70,"x":35,"y":17},{"c":70,"x":36.5,"y":16.8},{"c":70,"x":35.5,"y":16},{"c":70,"x":37,"y":15.9},{"c":70,"x":38.5,"y":16},{"c":70,"x":40,"y":16.2},
{"c":71,"x":33,"y":15.4},{"c":71,"x":34.5,"y":15.8},{"c":71,"x":36,"y":15.5},{"c":71,"x":37.5,"y":15.5},{"c":71,"x":40,"y":15.3},
{"c":72,"x":29.5,"y":15.3},{"c":72,"x":30.8,"y":14.6},{"c":72,"x":31.5,"y":13.9},{"c":72,"x":33,"y":14},{"c":72,"x":31.8,"y":13.6},{"c":72,"x":32.2,"y":13},{"c":72,"x":30.5,"y":12.8},
{"c":73,"x":26,"y":14.8},{"c":73,"x":28,"y":15},{"c":73,"x":29.5,"y":14.6},{"c":73,"x":30.5,"y":14},{"c":73,"x":29.5,"y":13.5},{"c":73,"x":27.5,"y":13.7},{"c":73,"x":27,"y":13.2},{"c":73,"x":26,"y":13.3},
{"c":74,"x":27,"y":14.2},{"c":74,"x":28.5,"y":14.1},{"c":74,"x":30,"y":13.4},{"c":74,"x":29.5,"y":12.9},{"c":74,"x":28,"y":12.6},{"c":74,"x":28.5,"y":12},{"c":74,"x":30,"y":11.8},{"c":74,"x":31,"y":11.4},
{"c":75,"x":25.6,"y":14.3},{"c":75,"x":26,"y":14.3},{"c":75,"x":26.2,"y":14},{"c":75,"x":25.7,"y":13.8},{"c":75,"x":25.6,"y":14.3},
{"c":76,"x":22.5,"y":12.5},{"c":76,"x":23.3,"y":13},{"c":76,"x":24.2,"y":12.8},{"c":76,"x":24.4,"y":12},{"c":76,"x":23.5,"y":11.5},{"c":76,"x":22.6,"y":11.7},{"c":76,"x":22.5,"y":12.5},
{"c":77,"x":20,"y":13},{"c":77,"x":20.8,"y":13.1},{"c":77,"x":21.3,"y":12.9},{"c":77,"x":20.6,"y":12.6},{"c":77,"x":20,"y":13},
{"c":78,"x":22.5,"y":11},{"c":78,"x":23.3,"y":11},{"c":78,"x":23.9,"y":10.6},{"c":78,"x":23,"y":10.7},{"c":78,"x":22.5,"y":11},
{"c":79,"x":25,"y":11.4},{"c":79,"x":26.5,"y":11.6},{"c":79,"x":27.5,"y":11.8},{"c":79,"x":26.5,"y":11.2},{"c":79,"x":26,"y":10.8},{"c":79,"x":27.5,"y":10.5},{"c":79,"x":29,"y":10.8},{"c":79,"x":29.5,"y":10.2},{"c":79,"x":31,"y":10.2},
{"c":80,"x":31,"y":10.9},{"c":80,"x":31.5,"y":11},{"c":80,"x":31.8,"y":10.7},{"c":80,"x":31.2,"y":10.6},{"c":80,"x":31,"y":10.9},
{"c":81,"x":32,"y":10.8},{"c":81,"x":33,"y":11},{"c":81,"x":34,"y":11.3},{"c":81,"x":34.9,"y":11.7},{"c":81,"x":33.5,"y":12.2},{"c":81,"x":33,"y":12.8},{"c":81,"x":34,"y":12.6},{"c":81,"x":34.8,"y":12},
{"c":82,"x":32.5,"y":10.3},{"c":82,"x":34,"y":10.5},{"c":82,"x":35.2,"y":10.4},{"c":82,"x":34.5,"y":10.1},{"c":82,"x":33,"y":9.9},{"c":82,"x":32.5,"y":10.3},
{"c":83,"x":35.2,"y":13.8},{"c":83,"x":36.5,"y":14},{"c":83,"x":38,"y":14.3},{"c":83,"x":39.5,"y":14.4},{"c":83,"x":40,"y":14.2},
{"c":84,"x":38.3,"y":14.1},{"c":84,"x":38.8,"y":14.3},{"c":84,"x":39.4,"y":14.1},{"c":84,"x":38.8,"y":13.8},{"c":84,"x":38.3,"y":14.1},
{"c":85,"x":36.8,"y":13.9},{"c":85,"x":37.2,"y":14},{"c":85,"x":37.3,"y":13.7},{"c":85,"x":36.9,"y":13.6},{"c":85,"x":36.8,"y":13.9},
{"c":86,"x":35,"y":13.3},{"c":86,"x":36.5,"y":13.3},{"c":86,"x":38,"y":13},{"c":86,"x":40,"y":13.1},
{"c":87,"x":35.2,"y":12.7},{"c":87,"x":36,"y":12.7},{"c":87,"x":36.5,"y":12.3},{"c":87,"x":38,"y":12.2},{"c":87,"x":40,"y":12.4},
{"c":88,"x":36,"y":11.2},{"c":88,"x":37.5,"y":11.2},{"c":88,"x":38,"y":11.7},{"c":88,"x":39.2,"y":11.8},{"c":88,"x":38.5,"y":11},{"c":88,"x":40,"y":10.6},
{"c":89,"x":35.2,"y":10.5},{"c":89,"x":36.5,"y":10.2},{"c":89,"x":38,"y":9.9},{"c":89,"x":39.5,"y":9.8},{"c":89,"x":40,"y":10},
{"c":90,"x":23,"y":10},{"c":90,"x":24.5,"y":10.3},{"c":90,"x":25.5,"y":10.1},{"c":90,"x":27,"y":9.9},{"c":90,"x":28.5,"y":10.1},{"c":90,"x":30,"y":9.6},{"c":90,"x":31.5,"y":10},{"c":90,"x":33.5,"y":9.8},{"c":90,"x":35,"y":9.3},
{"c":91,"x":26,"y":9.5},{"c":91,"x":27,"y":9},{"c":91,"x":28.5,"y":8.9},{"c":91,"x":30,"y":8.7},
{"c":92,"x":31.5,"y":9.3},{"c":92,"x":33,"y":9.2},{"c":92,"x":35,"y":9},{"c":92,"x":34.5,"y":8.7},{"c":92,"x":32,"y":8.7},{"c":92,"x":31.5,"y":9.3},
{"c":93,"x":36,"y":9},{"c":93,"x":37,"y":9.4},{"c":93,"x":38,"y":9},{"c":93,"x":38.8,"y":8.7},{"c":93,"x":40,"y":8.9},
{"c":94,"x":29,"y":7.6},{"c":94,"x":30.5,"y":7.8},{"c":94,"x":32,"y":7.8},{"c":94,"x":32.2,"y":7.2},{"c":94,"x":30.8,"y":7.2},{"c":94,"x":30,"y":7.2},{"c":94,"x":29,"y":7.6},
{"c":95,"x":34,"y":7},{"c":95,"x":35,"y":7.4},{"c":95,"x":36.5,"y":7},{"c":95,"x":37.5,"y":6.8},{"c":95,"x":38.5,"y":7.4},{"c":95,"x":40,"y":8},
{"c":96,"x":33.5,"y":6.7},{"c":96,"x":35,"y":6.6},{"c":96,"x":36.5,"y":6.3},{"c":96,"x":38,"y":6.2},{"c":96,"x":39,"y":6.2},
{"c":97,"x":31.3,"y":6.2},{"c":97,"x":32,"y":5.9},{"c":97,"x":33.5,"y":5.9},{"c":97,"x":35,"y":5.6},{"c":97,"x":35.2,"y":5.2},{"c":97,"x":34,"y":5},{"c":97,"x":33.2,"y":5.1},{"c":97,"x":32,"y":5.2},{"c":97,"x":31.3,"y":5.3},{"c":97,"x":31.3,"y":6.2},
{"c":98,"x":33.2,"y":5.5},{"c":98,"x":33.9,"y":5.7},{"c":98,"x":34.2,"y":5.4},{"c":98,"x":33.7,"y":5.2},{"c":98,"x":33.2,"y":5.5},
{"c":99,"x":36.5,"y":5.7},{"c":99,"x":37.8,"y":5.7},{"c":99,"x":38.8,"y":5.1},{"c":99,"x":38,"y":5},{"c":99,"x":37.3,"y":5.2},
{"c":100,"x":24.5,"y":7.5},{"c":100,"x":25.7,"y":7.5},{"c":100,"x":27,"y":7},{"c":100,"x":28,"y":6.7},{"c":100,"x":30,"y":6.5},{"c":100,"x":29.5,"y":6},{"c":100,"x":28,"y":5.8},{"c":100,"x":27,"y":5.5},{"c":100,"x":28.5,"y":5.1},
{"c":101,"x":24.8,"y":5.5},{"c":101,"x":26,"y":6.5},{"c":101,"x":27,"y":6.3},{"c":101,"x":28,"y":6},{"c":101,"x":29.5,"y":5.5},{"c":101,"x":30,"y":5},
{"c":102,"x":25.5,"y":4.9},{"c":102,"x":27,"y":4.5},{"c":102,"x":28.5,"y":4.1},{"c":102,"x":30,"y":4},{"c":102,"x":31,"y":3.5},{"c":102,"x":29.8,"y":3.5},{"c":102,"x":28.5,"y":3},{"c":102,"x":27.5,"y":2.5},{"c":102,"x":26,"y":3},{"c":102,"x":25.2,"y":3.7},{"c":102,"x":26,"y":2.5},{"c":102,"x":27.7,"y":2},{"c":102,"x":30,"y":2},
{"c":103,"x":32,"y":3.9},{"c":103,"x":33,"y":4.2},{"c":103,"x":33.5,"y":3.9},{"c":103,"x":32.5,"y":3.7},{"c":103,"x":32,"y":3.9},
{"c":104,"x":34,"y":3.7},{"c":104,"x":35,"y":4.2},{"c":104,"x":36,"y":3.5},{"c":104,"x":35,"y":3.1},{"c":104,"x":34.2,"y":3.2},{"c":104,"x":34,"y":3.7},
{"c":105,"x":35.5,"y":4.5},{"c":105,"x":36,"y":4.6},{"c":105,"x":36.5,"y":4.2},{"c":105,"x":35.9,"y":4.1},{"c":105,"x":35.5,"y":4.5},
{"c":106,"x":37.5,"y":3.5},{"c":106,"x":38,"y":3.3},{"c":106,"x":39,"y":3.6},{"c":106,"x":39.8,"y":3.4},{"c":106,"x":38.8,"y":3.1},{"c":106,"x":37.5,"y":3.5},
{"c":107,"x":38.5,"y":4},{"c":107,"x":39.3,"y":4.1},{"c":107,"x":39.7,"y":3.9},{"c":107,"x":38.8,"y":3.7},{"c":107,"x":38.5,"y":4},
{"c":108,"x":30,"y":2.8},{"c":108,"x":31.5,"y":2.7},{"c":108,"x":33,"y":2.9},{"c":108,"x":34,"y":2.2},{"c":108,"x":35.5,"y":1.9},{"c":108,"x":36.5,"y":1.2},{"c":108,"x":35.5,"y":1},{"c":108,"x":33,"y":1.5},{"c":108,"x":32,"y":1.1},
{"c":109,"x":37.2,"y":2.1},{"c":109,"x":37.8,"y":2.3},{"c":109,"x":38.3,"y":2},{"c":109,"x":37.7,"y":1.8},{"c":109,"x":37.2,"y":2.1},
{"c":110,"x":36.5,"y":0.9},{"c":110,"x":37.5,"y":1.4},{"c":110,"x":38.5,"y":1.2},{"c":110,"x":38,"y":0.7},{"c":110,"x":39.5,"y":0.6},{"c":110,"x":38,"y":0.4},{"c":110,"x":36.5,"y":0.9},
{"c":111,"x":26.3,"y":1.3},{"c":111,"x":27,"y":0.9},{"c":111,"x":28,"y":1.2},{"c":111,"x":29,"y":1.1},{"c":111,"x":28.2,"y":0.7},{"c":111,"x":29.2,"y":0.3},{"c":111,"x":30.5,"y":0.6},{"c":111,"x":31,"y":1.1},
{"c":112,"x":23.5,"y":0.9},{"c":112,"x":24,"y":1.1},{"c":112,"x":24.6,"y":0.6},{"c":112,"x":24.2,"y":0.4},{"c":112,"x":23.5,"y":0.9},
{"c":113,"x":21,"y":1.6},{"c":113,"x":22,"y":1.4},{"c":113,"x":23,"y":1.1},{"c":113,"x":22,"y":0.9},{"c":113,"x":21,"y":1.6},
{"c":114,"x":35,"y":0},{"c":114,"x":35.8,"y":0.3},{"c":114,"x":36.9,"y":0.3},{"c":114,"x":37.5,"y":0},
{"c":115,"x":39,"y":7.1},{"c":115,"x":39.5,"y":7.2},{"c":115,"x":40,"y":6.9},{"c":115,"x":39.5,"y":6.7},{"c":115,"x":39,"y":7.1}
],
"bar":[{"a":0,"b":5,"k":"black"},{"a":5,"b":10,"k":"white"},{"a":10,"b":15,"k":"black"},{"a":15,"b":20,"k":"white"}],
"needle":[{"p":"a","y":44,"x":0,"x2":0,"k":"black"},{"p":"a","y":9,"x":-4.5,"x2":0,"k":"black"},{"p":"b","y":44,"x":0,"x2":0,"k":"white"},{"p":"b","y":9,"x":0,"x2":4.5,"k":"white"},{"p":"c","y":-5,"x":0,"x2":0,"k":"black"},{"p":"c","y":-47,"x":-5.5,"x2":0,"k":"black"},{"p":"d","y":-5,"x":0,"x2":0,"k":"white"},{"p":"d","y":-47,"x":0,"x2":5.5,"k":"white"}],
"colorbar":[{"v":-10,"t":-9.75},{"v":-9.75,"t":-9.5},{"v":-9.5,"t":-9.25},{"v":-9.25,"t":-9},{"v":-9,"t":-8.75},{"v":-8.75,"t":-8.5},{"v":-8.5,"t":-8.25},{"v":-8.25,"t":-8},{"v":-8,"t":-7.75},{"v":-7.75,"t":-7.5},{"v":-7.5,"t":-7.25},{"v":-7.25,"t":-7},{"v":-7,"t":-6.75},{"v":-6.75,"t":-6.5},{"v":-6.5,"t":-6.25},{"v":-6.25,"t":-6},{"v":-6,"t":-5.75},{"v":-5.75,"t":-5.5},{"v":-5.5,"t":-5.25},{"v":-5.25,"t":-5},{"v":-5,"t":-4.75},{"v":-4.75,"t":-4.5},{"v":-4.5,"t":-4.25},{"v":-4.25,"t":-4},{"v":-4,"t":-3.75},{"v":-3.75,"t":-3.5},{"v":-3.5,"t":-3.25},{"v":-3.25,"t":-3},{"v":-3,"t":-2.75},{"v":-2.75,"t":-2.5},{"v":-2.5,"t":-2.25},{"v":-2.25,"t":-2},{"v":-2,"t":-1.75},{"v":-1.75,"t":-1.5},{"v":-1.5,"t":-1.25},{"v":-1.25,"t":-1},{"v":-1,"t":-0.75},{"v":-0.75,"t":-0.5},{"v":-0.5,"t":-0.25},{"v":-0.25,"t":0},{"v":0,"t":0.25},{"v":0.25,"t":0.5},{"v":0.5,"t":0.75},{"v":0.75,"t":1},{"v":1,"t":1.25},{"v":1.25,"t":1.5},{"v":1.5,"t":1.75},{"v":1.75,"t":2},{"v":2,"t":2.25},{"v":2.25,"t":2.5},{"v":2.5,"t":2.75},{"v":2.75,"t":3},{"v":3,"t":3.25},{"v":3.25,"t":3.5},{"v":3.5,"t":3.75},{"v":3.75,"t":4},{"v":4,"t":4.25},{"v":4.25,"t":4.5},{"v":4.5,"t":4.75},{"v":4.75,"t":5},{"v":5,"t":5.25},{"v":5.25,"t":5.5},{"v":5.5,"t":5.75},{"v":5.75,"t":6},{"v":6,"t":6.25},{"v":6.25,"t":6.5},{"v":6.5,"t":6.75},{"v":6.75,"t":7},{"v":7,"t":7.25},{"v":7.25,"t":7.5},{"v":7.5,"t":7.75},{"v":7.75,"t":8},{"v":8,"t":8.25},{"v":8.25,"t":8.5},{"v":8.5,"t":8.75},{"v":8.75,"t":9},{"v":9,"t":9.25},{"v":9.25,"t":9.5},{"v":9.5,"t":9.75},{"v":9.75,"t":10}]
},
"hconcat":[
{"bounds":"flush","spacing":35,"vconcat":[
{"width":582,"height":291,"layer":[
{"data":{"name":"base"},"mark":{"type":"rect"},"encoding":{"x":{"field":"x","type":"quantitative","scale":{"domain":[0,40],"nice":false},"axis":{"values":[0,5,10,15,20,25,30,35,40],"labelPadding":8,"labelAngle":0}},"x2":{"field":"x2"},"y":{"field":"y","type":"quantitative","scale":{"domain":[0,20],"nice":false},"axis":{"values":[0,5,10,15,20],"labelPadding":9}},"y2":{"field":"y2"},"color":{"field":"v","type":"quantitative","legend":null,"scale":{"domain":[-10,-6,-5,-4,-3,-2,0,2,4,6,10],"range":["#a066ee","#0000ff","#0040b0","#107868","#00a850","#00f000","#82fa10","#ffff00","#ffb000","#ff6a00","#ff0000"]}}}},
{"data":{"name":"blobs"},"transform":[{"filter":"abs(datum.v)<=1.2"}],"mark":{"type":"point","filled":true,"opacity":0.7,"strokeWidth":0,"clip":true},"encoding":{"x":{"field":"x","type":"quantitative"},"y":{"field":"y","type":"quantitative"},"color":{"field":"v","type":"quantitative","legend":null},"size":{"field":"w","type":"quantitative","legend":null,"scale":{"type":"pow","exponent":2,"domain":[0,8],"range":[0,13548]}},"shape":{"field":"s","type":"nominal","legend":null,"scale":{"domain":["a","b","c","d"],"range":["M-1,0A1,1 0 1 1 1,0A1,1 0 1 1 -1,0Z","M-1,0A1,.55 0 1 1 1,0A1,.55 0 1 1 -1,0Z","M-1,0A1,.28 0 1 1 1,0A1,.28 0 1 1 -1,0Z","M-1,0A1,.08 0 1 1 1,0A1,.08 0 1 1 -1,0Z"]}}}},
{"data":{"name":"blobs"},"transform":[{"filter":"abs(datum.v)>1.2"}],"mark":{"type":"point","filled":true,"opacity":1,"strokeWidth":0,"clip":true},"encoding":{"x":{"field":"x","type":"quantitative"},"y":{"field":"y","type":"quantitative"},"color":{"field":"v","type":"quantitative","legend":null},"size":{"field":"w","type":"quantitative","legend":null,"scale":{"type":"pow","exponent":2,"domain":[0,8],"range":[0,13548]}},"shape":{"field":"s","type":"nominal","legend":null,"scale":{"domain":["a","b","c","d"],"range":["M-1,0A1,1 0 1 1 1,0A1,1 0 1 1 -1,0Z","M-1,0A1,.55 0 1 1 1,0A1,.55 0 1 1 -1,0Z","M-1,0A1,.28 0 1 1 1,0A1,.28 0 1 1 -1,0Z","M-1,0A1,.08 0 1 1 1,0A1,.08 0 1 1 -1,0Z"]}}}},
{"data":{"name":"grid"},"mark":{"type":"rule","color":"#333","opacity":0.75,"strokeWidth":1},"encoding":{"x":{"field":"x","type":"quantitative"},"y":{"datum":-0.45},"y2":{"datum":20.45}}},
{"data":{"name":"gridy"},"mark":{"type":"rule","color":"#333","opacity":0.75,"strokeWidth":1},"encoding":{"y":{"field":"y","type":"quantitative"},"x":{"datum":-0.45},"x2":{"datum":40.45}}},
{"data":{"values":[{"a":1}]},"mark":{"type":"rule","color":"#555","strokeWidth":2},"encoding":{"x":{"datum":-7},"y":{"datum":21.62},"y2":{"datum":-32.6}}},
{"data":{"values":[{"a":1}]},"mark":{"type":"rule","color":"#666","strokeWidth":2},"encoding":{"y":{"datum":21.62},"x":{"datum":-7},"x2":{"datum":54.7}}}
]},
{"width":582,"height":21,"data":{"values":[{"t":""}]},"mark":{"type":"text"},"encoding":{"text":{"field":"t"}}},
{"width":582,"height":292,"layer":[
{"data":{"name":"rings"},"mark":{"type":"point","filled":false,"stroke":"#777","strokeWidth":1,"opacity":1},"encoding":{"x":{"field":"x","type":"quantitative","scale":{"domain":[0,40],"nice":false},"axis":{"values":[0,5,10,15,20,25,30,35,40],"labelPadding":8,"labelAngle":0}},"y":{"field":"y","type":"quantitative","scale":{"domain":[0,20],"nice":false},"axis":{"values":[0,5,10,15,20],"labelPadding":9}},"size":{"field":"w","type":"quantitative","legend":null,"scale":{"type":"pow","exponent":2,"domain":[0,8],"range":[0,13548]}},"shape":{"field":"s","type":"nominal","legend":null,"scale":{"domain":["a","b","c"],"range":["M-1,0A1,1 0 1 1 1,0A1,1 0 1 1 -1,0Z","M-1,0A1,.55 0 1 1 1,0A1,.55 0 1 1 -1,0Z","M-1,0A1,.28 0 1 1 1,0A1,.28 0 1 1 -1,0Z"]}}}},
{"data":{"name":"dark"},"mark":{"type":"point","filled":true,"strokeWidth":0,"opacity":1},"encoding":{"x":{"field":"x","type":"quantitative"},"y":{"field":"y","type":"quantitative"},"color":{"field":"g","type":"nominal","legend":null,"scale":{"domain":["m","d","k"],"range":["#aaaaaa","#555555","#0a0a0a"]}},"size":{"field":"w","type":"quantitative","legend":null,"scale":{"type":"pow","exponent":2,"domain":[0,8],"range":[0,13548]}},"shape":{"field":"s","type":"nominal","legend":null,"scale":{"domain":["a","b","c"],"range":["M-1,0A1,1 0 1 1 1,0A1,1 0 1 1 -1,0Z","M-1,0A1,.55 0 1 1 1,0A1,.55 0 1 1 -1,0Z","M-1,0A1,.28 0 1 1 1,0A1,.28 0 1 1 -1,0Z"]}}}},
{"data":{"name":"contours"},"mark":{"type":"line","interpolate":"catmull-rom","color":"#8a8a8a","strokeWidth":1.1,"clip":true},"encoding":{"x":{"field":"x","type":"quantitative"},"y":{"field":"y","type":"quantitative"},"detail":{"field":"c","type":"nominal"},"order":{"value":null}}},
{"data":{"name":"grid"},"mark":{"type":"rule","color":"#999","strokeWidth":1.3},"encoding":{"x":{"field":"x","type":"quantitative"},"y":{"datum":-0.45},"y2":{"datum":20.45}}},
{"data":{"name":"gridy"},"mark":{"type":"rule","color":"#999","strokeWidth":1.3},"encoding":{"y":{"field":"y","type":"quantitative"},"x":{"datum":-0.45},"x2":{"datum":40.45}}}
]},
{"width":582,"height":34,"layer":[
{"data":{"name":"bar"},"mark":{"type":"rect","stroke":"#999","strokeWidth":1},"encoding":{"x":{"field":"a","type":"quantitative","scale":{"domain":[-8.59,31.41],"nice":false},"axis":{"values":[0,5,10,15,20],"labelPadding":3,"labelAngle":0,"labelColor":"#444"}},"x2":{"field":"b"},"y":{"datum":0,"type":"quantitative","scale":{"domain":[0,34],"nice":false},"axis":null},"y2":{"datum":8},"fill":{"field":"k","type":"nominal","legend":null,"scale":null}}},
{"data":{"values":[{"t":"contour interval = 2 nT","x":10.17,"y":26}]},"mark":{"type":"text","font":"Liberation Sans","fontSize":12,"color":"#333"},"encoding":{"x":{"field":"x","type":"quantitative"},"y":{"field":"y","type":"quantitative"},"text":{"field":"t"}}},
{"data":{"values":[{"t":"meters","x":20.95,"y":-9}]},"mark":{"type":"text","font":"Liberation Sans","fontSize":12,"color":"#444","align":"left"},"encoding":{"x":{"field":"x","type":"quantitative"},"y":{"field":"y","type":"quantitative"},"text":{"field":"t"}}}
]}
]},
{"bounds":"flush","spacing":48,"vconcat":[
{"width":24,"height":390,"layer":[
{"data":{"name":"colorbar"},"mark":{"type":"rect","strokeWidth":0.6},"encoding":{"y":{"field":"v","type":"quantitative","scale":{"domain":[-10.05,10.05],"nice":false},"axis":{"orient":"right","values":[-10,-9,-8,-7,-6,-5,-4,-3,-2,-1,0,1,2,3,4,5,6,7,8,9,10],"ticks":true,"tickSize":6,"tickColor":"#888","labelPadding":3,"labelExpr":"datum.value==10?'10 nT':datum.value"}},"y2":{"field":"t"},"color":{"field":"v","type":"quantitative","legend":null,"scale":{"domain":[-10,-6,-5,-4,-3,-2,0,2,4,6,10],"range":["#a066ee","#0000ff","#0040b0","#107868","#00a850","#00f000","#82fa10","#ffff00","#ffb000","#ff6a00","#ff0000"]}},"stroke":{"field":"v","type":"quantitative","legend":null,"scale":{"domain":[-10,-6,-5,-4,-3,-2,0,2,4,6,10],"range":["#a066ee","#0000ff","#0040b0","#107868","#00a850","#00f000","#82fa10","#ffff00","#ffb000","#ff6a00","#ff0000"]}}}}
]},
{"width":56,"height":170,"layer":[
{"data":{"name":"needle"},"mark":{"type":"area","orient":"horizontal","stroke":"#222","strokeWidth":0.8},"encoding":{"y":{"field":"y","type":"quantitative","scale":{"domain":[-63,107],"nice":false},"axis":null},"x":{"field":"x","type":"quantitative","scale":{"domain":[-28,28],"nice":false},"axis":null},"x2":{"field":"x2"},"detail":{"field":"p"},"fill":{"field":"k","type":"nominal","legend":null,"scale":null}}},
{"data":{"values":[{"x":0,"y":0}]},"mark":{"type":"point","filled":true,"color":"#222","size":70,"opacity":1},"encoding":{"x":{"field":"x","type":"quantitative"},"y":{"field":"y","type":"quantitative"}}},
{"data":{"values":[{"t":"MAGNETIC","x":0,"y":90}]},"mark":{"type":"text","font":"Liberation Sans","fontSize":21,"fontWeight":"bold","color":"#222"},"encoding":{"x":{"field":"x","type":"quantitative"},"y":{"field":"y","type":"quantitative"},"text":{"field":"t"}}},
{"data":{"values":[{"t":"N","x":0,"y":55}]},"mark":{"type":"text","font":"Liberation Sans","fontSize":17,"color":"#222"},"encoding":{"x":{"field":"x","type":"quantitative"},"y":{"field":"y","type":"quantitative"},"text":{"field":"t"}}}
]}
]}
]}
